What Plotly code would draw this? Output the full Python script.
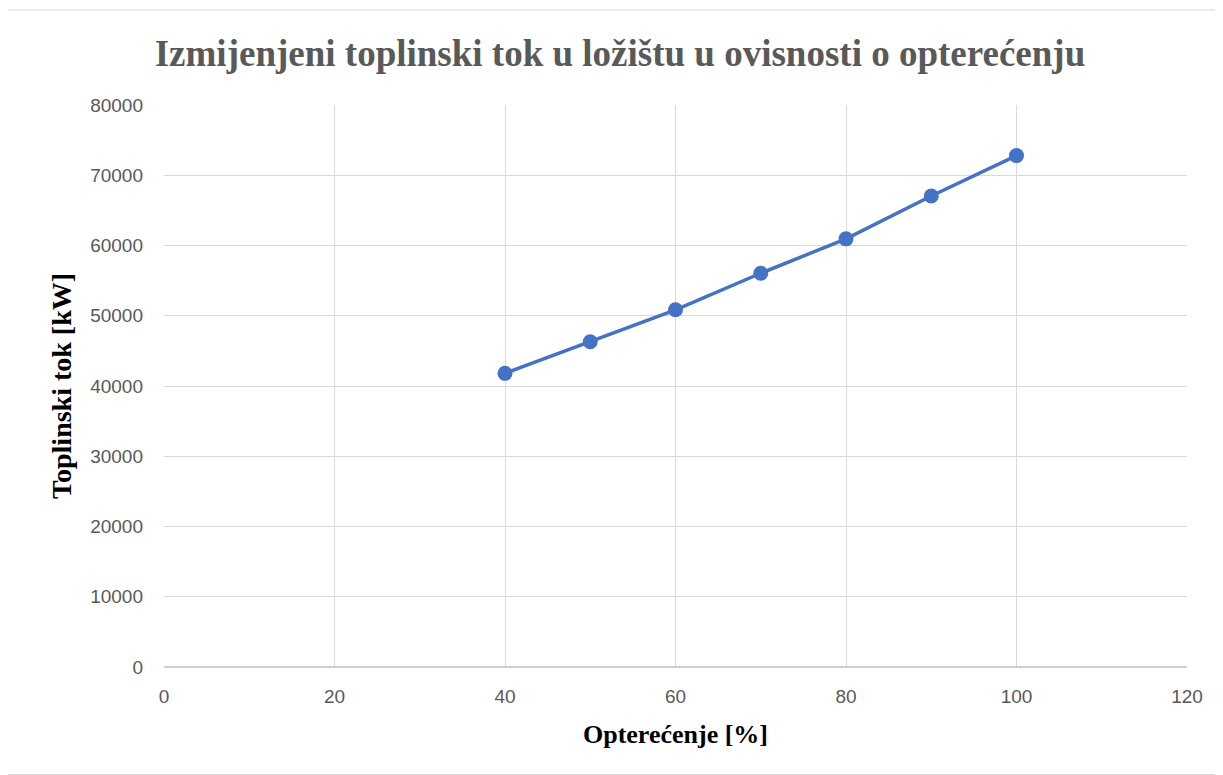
import plotly.graph_objects as go

load_pct = [40, 50, 60, 70, 80, 90, 100]
heat_flow_kw = [41800, 46300, 50850, 56050, 60950, 67050, 72800]

x_ticks = [0, 20, 40, 60, 80, 100, 120]
y_ticks = [0, 10000, 20000, 30000, 40000, 50000, 60000, 70000, 80000]

OFF = 8  # page body margin
W, H = 1223 - OFF, 775 - OFF
L, R, T, B = 164 - OFF, 36, 105 - OFF, 108
pw, ph = W - L - R, H - T - B

fig = go.Figure()
fig.add_trace(go.Scatter(
    x=load_pct, y=heat_flow_kw, mode="lines+markers",
    line=dict(color="#4472C4", width=3.5),
    marker=dict(color="#4472C4", size=15),
    showlegend=False,
))

fig.update_layout(
    width=W, height=H,
    margin=dict(l=L, r=R, t=T, b=B),
    paper_bgcolor="white", plot_bgcolor="white",
    title=dict(
        text="<b>Izmijenjeni toplinski tok u ložištu u ovisnosti o opterećenju</b>",
        font=dict(family="Liberation Serif", size=37, color="#595959"),
        x=(620 - OFF) / W, xanchor="center", y=1 - (53 - OFF) / H, yanchor="middle",
    ),
    xaxis=dict(
        range=[0, 120], tickvals=x_ticks, ticktext=[str(v) for v in x_ticks],
        showgrid=True, gridcolor="#d9d9d9", gridwidth=1,
        zeroline=False, showline=False,
        ticks="", ticklabelstandoff=16,
        tickfont=dict(family="Liberation Sans", size=19, color="#595959"),
        title=dict(text="<b>Opterećenje [%]</b>",
                   font=dict(family="Liberation Serif", size=26, color="black"),
                   standoff=18),
    ),
    yaxis=dict(
        range=[0, 80000], tickvals=y_ticks, ticktext=[str(v) for v in y_ticks],
        showgrid=True, gridcolor="#d9d9d9", gridwidth=1,
        zeroline=False, showline=False,
        ticks="", ticklabelstandoff=20,
        tickfont=dict(family="Liberation Sans", size=19, color="#595959"),
        title=dict(text="<b>Toplinski tok [kW]</b>",
                   font=dict(family="Liberation Serif", size=28, color="black"),
                   standoff=10),
    ),
)

# x-axis baseline (darker)
fig.add_shape(type="line", xref="paper", yref="paper", x0=0, x1=1, y0=0, y1=0,
              line=dict(color="#bfbfbf", width=1.5))
# chart outer border
fig.add_shape(type="rect", xref="paper", yref="paper",
              x0=(4 - OFF + 0.5 - L) / pw, x1=(W - 0.5 - L) / pw,
              y0=-(H - 0.5 - T - ph) / ph, y1=1 + (T - (10 - OFF)) / ph,
              line=dict(color="#d9d9d9", width=1))

fig.write_html("out.html")
